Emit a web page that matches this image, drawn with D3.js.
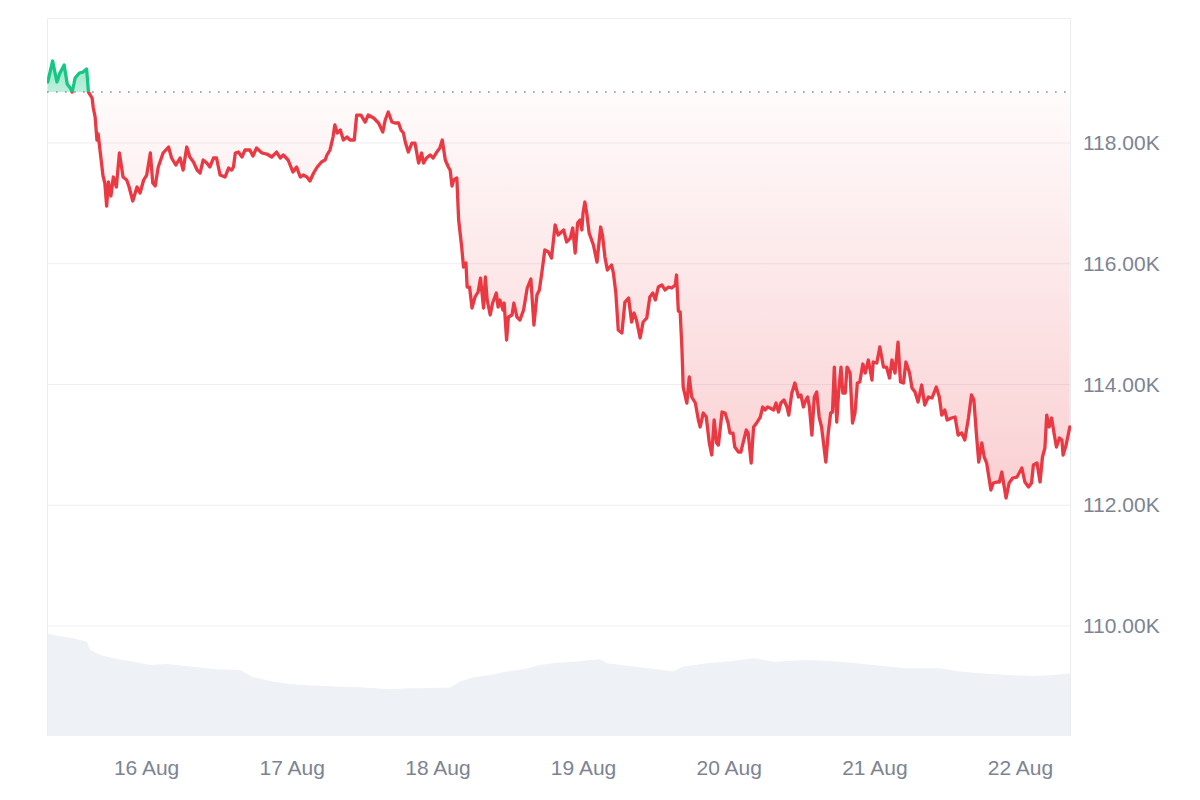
<!DOCTYPE html>
<html>
<head>
<meta charset="utf-8">
<script src="https://cdn.jsdelivr.net/npm/d3@7"></script>
<style>
  html, body { margin: 0; padding: 0; background: #fff; }
  svg { display: block; font-family: "Liberation Sans", Arial, sans-serif; }
</style>
</head>
<body>
<svg id="chart" width="1200" height="800"></svg>
<script>
// ---------------- DATA ----------------
// Hours since 15 Aug 00:00 (UTC)
const priceHours = [7.8,8.6,9.3,9.8,10.5,11.0,11.5,11.8,12.1,12.3,13.0,13.6,14.2,14.5,15.1,15.3,15.6,15.9,16.1,16.4,16.9,17.2,17.5,17.8,18.2,18.6,19.1,19.6,20.2,20.8,21.2,21.8,22.5,23.0,23.6,24.1,24.7,25.1,25.5,26.0,26.8,27.7,28.2,28.9,29.6,30.1,30.7,31.2,31.8,32.4,32.9,33.4,34.0,34.5,35.1,35.6,36.2,37.0,37.6,38.1,38.4,38.7,39.2,39.8,40.3,41.1,41.6,42.2,43.1,43.9,44.7,45.5,46.1,46.6,47.4,48.2,48.8,49.4,49.9,50.5,51.0,51.6,52.2,52.9,53.5,53.8,54.3,54.8,55.1,55.5,56.0,56.5,57.1,57.6,58.3,58.7,59.4,60.1,60.6,61.5,62.3,63.0,63.4,63.9,64.5,65.0,65.6,66.0,66.4,66.7,67.2,67.8,68.3,68.9,69.4,69.7,70.2,70.8,71.3,71.9,72.4,72.8,73.3,73.8,74.1,74.4,74.7,75.2,75.5,76.0,76.3,76.7,76.9,77.3,77.7,78.2,78.7,79.1,79.6,79.9,80.2,80.7,81.1,81.7,82.0,82.3,82.8,83.0,83.4,83.7,84.3,84.6,85.1,85.6,86.2,86.8,87.4,87.9,88.4,88.8,89.2,89.7,90.3,90.8,91.4,91.9,92.8,93.3,93.9,94.3,94.7,95.1,95.5,95.8,96.0,96.3,96.6,97.0,97.7,98.3,98.5,98.9,99.2,99.6,100.0,100.4,100.7,101.0,101.4,101.8,102.4,102.9,103.5,104.0,104.4,104.8,105.4,105.9,106.5,107.0,107.5,107.9,108.4,109.0,109.5,110.1,110.6,111.2,111.4,111.7,112.0,112.3,112.5,113.1,113.5,113.9,114.5,115.0,115.3,115.8,116.3,116.8,117.2,117.6,118.0,118.3,118.9,119.4,119.9,120.2,120.7,121.0,121.6,122.0,122.4,122.9,123.2,123.7,124.1,124.6,125.2,125.6,126.0,126.4,126.8,127.4,127.8,128.2,128.6,129.1,129.6,129.9,130.4,130.9,131.5,131.9,132.3,132.7,133.0,133.3,133.7,134.1,134.5,134.9,135.3,135.7,136.0,136.4,136.8,137.1,137.4,137.8,138.1,138.5,138.8,139.2,139.5,140.0,140.4,140.8,141.2,141.6,142.1,142.5,143.0,143.6,143.8,144.4,144.9,145.5,146.0,146.5,146.9,147.4,147.9,148.3,148.8,149.2,149.8,150.2,150.7,151.2,151.8,152.3,152.9,153.5,154.2,154.7,155.1,155.6,156.0,156.7,157.3,157.8,158.4,158.9,159.5,160.0,160.4,160.8,161.2,161.7,162.1,162.5,163.2,163.6,164.2,164.6,165.0,165.4,165.7,166.2,166.8,167.5,168.3,168.8,169.4,169.9,170.2,170.8,171.3,171.7,172.1,172.4,172.8,173.2,173.6,174.0,174.5,174.9,175.1,175.6,176.2];
// BTC price, USD
const prices = [119010,119358,119010,119159,119291,118977,118910,118844,118977,119076,119159,119175,119225,118844,118745,118579,118430,118049,118149,117884,117453,117337,116956,117354,117122,117436,117271,117834,117436,117387,117271,117039,117271,117171,117387,117469,117834,117337,117287,117602,117834,117933,117751,117635,117751,117552,117933,117768,117685,117552,117503,117718,117668,117602,117751,117751,117469,117436,117585,117552,117602,117834,117850,117768,117884,117884,117784,117917,117834,117817,117768,117850,117751,117801,117718,117519,117602,117436,117469,117436,117370,117503,117602,117685,117718,117801,117884,118099,118298,118165,118215,118049,118099,118049,118049,118463,118463,118347,118463,118414,118331,118182,118380,118513,118347,118331,118331,118215,118165,118016,117850,117999,117999,117668,117834,117668,117751,117801,117751,117850,117917,118049,117718,117602,117552,117287,117387,117420,116724,116277,115946,116012,115614,115614,115267,115449,115532,115763,115267,115780,115399,115151,115349,115515,115283,115399,115233,115349,114737,115118,115151,115349,115118,115068,115233,115598,115747,114985,115482,115565,115846,116227,116194,116095,116641,116476,116559,116360,116426,116592,116178,116674,116724,116559,116840,117022,116840,116509,116310,116028,116227,116608,116476,116111,115896,115946,115979,115846,115515,114902,114853,115366,115432,115035,115184,115068,114770,115035,115101,115449,115515,115399,115614,115648,115565,115614,115598,115648,115813,115217,115200,114571,113958,113693,114124,113793,113693,113412,113296,113527,113461,113031,112832,113412,113031,112997,113544,113527,113362,113196,113196,112964,112882,112882,113047,113246,113196,112699,113296,113362,113461,113627,113577,113627,113610,113577,113693,113544,113693,113743,113627,113494,113859,114024,113793,113826,113627,113743,113793,113627,113163,113793,113875,113461,113296,112964,112716,113196,113527,113544,114289,113378,113859,114289,113859,113859,114289,114190,113362,113527,114024,114041,114339,114190,114405,114074,114372,114356,114621,114289,114289,114107,114405,114190,114703,114041,114024,114372,114190,113942,113875,113710,113991,113660,113793,113776,113958,113793,113494,113577,113412,113445,113461,113163,113196,113080,113445,113826,113743,113196,112716,113031,112799,112699,112252,112368,112385,112385,112550,112302,112120,112368,112451,112467,112617,112385,112302,112368,112666,112699,112385,112799,112948,113494,113296,113445,113196,112964,113113,113080,112832,112997,113296];
// Reference (period open) price shown as dotted line
const baselinePrice = 118844;

// 24h trading volume (billions USD) at hours since 15 Aug 00:00
const volumeHours = [7.7,8.7,12.0,14.2,14.8,16.4,18.6,21.9,24.7,27.4,31.3,35.7,39.5,41.7,45.0,47.7,50.5,56.0,59.3,64.2,67.0,74.1,75.7,77.9,80.7,83.4,86.2,88.9,91.7,94.4,98.8,99.9,104.3,108.1,110.9,112.5,116.4,120.8,124.1,127.4,132.9,138.3,143.8,149.3,154.8,158.1,160.3,165.8,170.2,173.5,176.4];
const volumes = [36.7,36.1,34.9,33.7,30.7,28.9,27.8,26.5,25.4,25.7,24.8,23.8,23.6,21.0,19.4,18.6,18.1,17.6,17.4,16.7,17.0,17.3,19.4,21.0,21.8,23.0,23.8,25.4,26.2,26.5,27.4,26.0,24.8,23.8,23.0,24.8,26.0,26.8,27.8,26.5,27.1,26.5,25.4,24.2,24.2,23.0,22.6,21.8,21.4,21.8,22.4];

// Axes
const yTicks = [110000, 112000, 114000, 116000, 118000];
const xTickDays = ["2025-08-16","2025-08-17","2025-08-18","2025-08-19","2025-08-20","2025-08-21","2025-08-22"];
const xTickLabels = ["16 Aug","17 Aug","18 Aug","19 Aug","20 Aug","21 Aug","22 Aug"];
const xDomainHours = [7.67, 176.4];
const yDomain = [108178, 120070];
const volumeDomain = [0, 50];

// ---------------- CHART ----------------
const baseMs = Date.UTC(2025, 7, 15);
const toDate = h => new Date(baseMs + h * 3600000);

const plot = { left: 47, right: 1071, top: 18, bottom: 736 };

const RED = "#ea3943", GREEN = "#16c784";

const svg = d3.select("#chart");

const x = d3.scaleUtc().domain(xDomainHours.map(toDate)).range([plot.left, plot.right]);
const y = d3.scaleLinear().domain(yDomain).range([plot.bottom, plot.top]);
const yVol = d3.scaleLinear().domain(volumeDomain).range([plot.bottom, plot.bottom - 140]);

const data = priceHours.map((h, i) => ({ t: toDate(h), p: prices[i] }));
const vdata = volumeHours.map((h, i) => ({ t: toDate(h), v: volumes[i] }));
const yBase = y(baselinePrice);

const defs = svg.append("defs");
defs.append("clipPath").attr("id", "clipAbove")
  .append("rect").attr("x", plot.left).attr("y", plot.top)
  .attr("width", plot.right - plot.left).attr("height", yBase - plot.top);
defs.append("clipPath").attr("id", "clipBelow")
  .append("rect").attr("x", plot.left).attr("y", yBase)
  .attr("width", plot.right - plot.left).attr("height", plot.bottom - yBase);

const minP = d3.min(prices), maxP = d3.max(prices);
const gRed = defs.append("linearGradient").attr("id", "gradRed")
  .attr("gradientUnits", "userSpaceOnUse")
  .attr("x1", 0).attr("x2", 0).attr("y1", yBase).attr("y2", y(minP));
gRed.append("stop").attr("offset", 0).attr("stop-color", RED).attr("stop-opacity", 0.02);
gRed.append("stop").attr("offset", 1).attr("stop-color", RED).attr("stop-opacity", 0.24);

const gGreen = defs.append("linearGradient").attr("id", "gradGreen")
  .attr("gradientUnits", "userSpaceOnUse")
  .attr("x1", 0).attr("x2", 0).attr("y1", y(maxP)).attr("y2", yBase);
gGreen.append("stop").attr("offset", 0).attr("stop-color", GREEN).attr("stop-opacity", 0.45);
gGreen.append("stop").attr("offset", 1).attr("stop-color", GREEN).attr("stop-opacity", 0.28);

// Volume area
svg.append("path").datum(vdata)
  .attr("fill", "#eef1f5")
  .attr("d", d3.area().x(d => x(d.t)).y0(plot.bottom).y1(d => yVol(d.v)));

// Grid lines
svg.append("g").selectAll("line").data(yTicks).join("line")
  .attr("x1", plot.left).attr("x2", plot.right)
  .attr("y1", d => y(d)).attr("y2", d => y(d))
  .attr("stroke", "#eeeff2").attr("stroke-width", 1);

// Frame
svg.append("path")
  .attr("d", `M${plot.left + 0.5},${plot.bottom}V${plot.top + 0.5}H${plot.right - 0.5}V${plot.bottom}`)
  .attr("fill", "none").attr("stroke", "#ebecef").attr("stroke-width", 1);

// Filled areas
const area = d3.area().x(d => x(d.t)).y0(yBase).y1(d => y(d.p));
svg.append("path").datum(data).attr("clip-path", "url(#clipBelow)")
  .attr("fill", "url(#gradRed)").attr("d", area);
svg.append("path").datum(data).attr("clip-path", "url(#clipAbove)")
  .attr("fill", "url(#gradGreen)").attr("d", area);

// Baseline (dotted)
svg.append("line")
  .attr("x1", plot.left).attr("x2", plot.right)
  .attr("y1", yBase).attr("y2", yBase)
  .attr("stroke", "#8f959e").attr("stroke-width", 1.7)
  .attr("stroke-dasharray", "1.7 7.3");

// Price lines
const line = d3.line().x(d => x(d.t)).y(d => y(d.p));
svg.append("path").datum(data).attr("clip-path", "url(#clipBelow)")
  .attr("fill", "none").attr("stroke", RED).attr("stroke-width", 3.3)
  .attr("stroke-linejoin", "round").attr("stroke-linecap", "round").attr("d", line);
svg.append("path").datum(data).attr("clip-path", "url(#clipAbove)")
  .attr("fill", "none").attr("stroke", GREEN).attr("stroke-width", 3.3)
  .attr("stroke-linejoin", "round").attr("stroke-linecap", "round").attr("d", line);

// Y axis (right)
const yAxis = svg.append("g").attr("transform", `translate(${plot.right},0)`)
  .call(d3.axisRight(y).tickValues(yTicks).tickSize(0).tickPadding(12)
    .tickFormat(d => (d / 1000).toFixed(2) + "K"));
yAxis.select(".domain").remove();
yAxis.selectAll("text").attr("fill", "#7c8493").style("font-size", "21px")
  .style("font-family", "'Liberation Sans', Arial, sans-serif");

// X axis
const xTickDates = xTickDays.map(s => new Date(s + "T00:00:00Z"));
const xAxis = svg.append("g").attr("transform", `translate(0,${plot.bottom})`)
  .call(d3.axisBottom(x).tickValues(xTickDates).tickSize(0).tickPadding(24)
    .tickFormat((d, i) => xTickLabels[i]));
xAxis.select(".domain").remove();
xAxis.selectAll("text").attr("fill", "#7c8493").style("font-size", "21px")
  .style("font-family", "'Liberation Sans', Arial, sans-serif");
</script>
</body>
</html>
